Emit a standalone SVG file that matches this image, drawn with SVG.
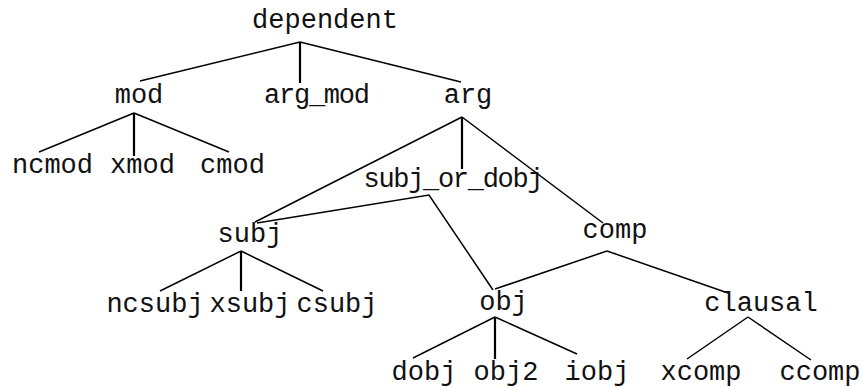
<svg xmlns="http://www.w3.org/2000/svg" width="862" height="387" viewBox="0 0 862 387">
<style>
text{font-family:"Liberation Mono","Courier New",monospace;font-size:27px;fill:#111;text-anchor:middle}
.e line,.e polyline{stroke:#000;stroke-width:1.5;fill:none}
.e .v{stroke-width:2.2}
</style>
<rect width="862" height="387" fill="#fff"/>
<g class="e" id="connectors">
<line x1="300" y1="42" x2="140" y2="81"/>
<line class="v" x1="300" y1="42" x2="300" y2="83"/>
<line x1="300" y1="42" x2="461" y2="82"/>
<line x1="134" y1="113" x2="39" y2="152"/>
<line class="v" x1="134" y1="113" x2="134" y2="156"/>
<line x1="134" y1="113" x2="229" y2="152"/>
<line x1="462" y1="117" x2="255" y2="222"/>
<line class="v" x1="462" y1="117" x2="462" y2="169"/>
<line x1="462" y1="117" x2="603" y2="223"/>
<polyline points="257,223 429,195 493,290"/>
<line x1="241" y1="251" x2="160" y2="291"/>
<line class="v" x1="241" y1="251" x2="241" y2="291"/>
<line x1="241" y1="251" x2="323" y2="291"/>
<line x1="607" y1="251" x2="495" y2="289"/>
<line x1="607" y1="251" x2="728" y2="293"/>
<line x1="495" y1="317" x2="413" y2="358"/>
<line class="v" x1="495" y1="317" x2="495" y2="359"/>
<line x1="495" y1="317" x2="577" y2="354"/>
<line x1="748" y1="317" x2="687" y2="359"/>
<line x1="748" y1="317" x2="811" y2="360"/>
</g>
<g id="dependent"><text x="325" y="28">dependent</text></g>
<g id="mod"><text x="139" y="103">mod</text></g>
<g id="arg_mod"><text x="317" y="103" textLength="106">arg_mod</text></g>
<g id="arg"><text x="468" y="103">arg</text></g>
<g id="ncmod"><text x="52.5" y="173">ncmod</text></g>
<g id="xmod"><text x="142.5" y="173">xmod</text></g>
<g id="cmod"><text x="232.5" y="173">cmod</text></g>
<g id="subj_or_dobj"><text x="453.5" y="187" textLength="180">subj_or_dobj</text></g>
<g id="subj"><text x="250" y="242">subj</text></g>
<g id="comp"><text x="615" y="238">comp</text></g>
<g id="ncsubj"><text x="155" y="312">ncsubj</text></g>
<g id="xsubj"><text x="250" y="312">xsubj</text></g>
<g id="csubj"><text x="337" y="312">csubj</text></g>
<g id="obj"><text x="503.5" y="310">obj</text></g>
<g id="clausal"><text x="761" y="311">clausal</text></g>
<g id="dobj"><text x="424" y="380">dobj</text></g>
<g id="obj2"><text x="506" y="380">obj2</text></g>
<g id="iobj"><text x="597" y="380">iobj</text></g>
<g id="xcomp"><text x="701" y="380">xcomp</text></g>
<g id="ccomp"><text x="820" y="380">ccomp</text></g>
</svg>
